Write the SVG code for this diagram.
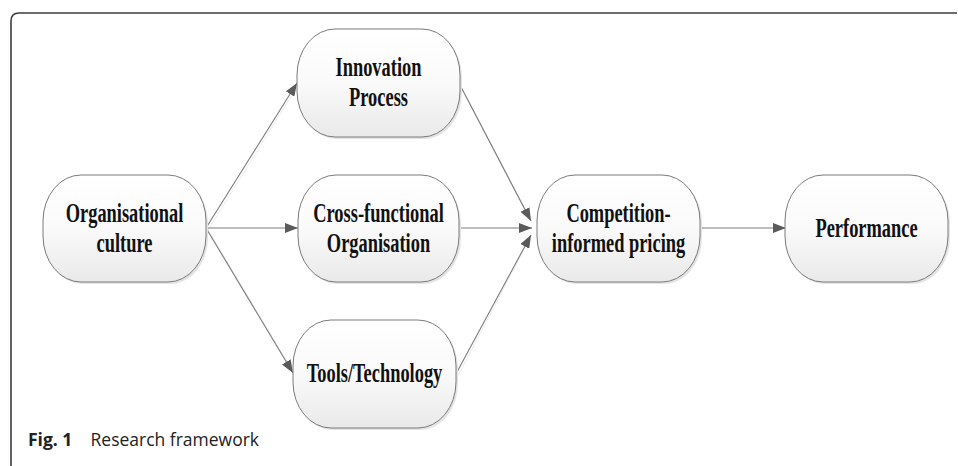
<svg xmlns="http://www.w3.org/2000/svg" width="958" height="466" viewBox="0 0 958 466">
  <defs>
    <linearGradient id="nodeFill" x1="0" y1="0" x2="0" y2="1">
      <stop offset="0" stop-color="#ffffff"/>
      <stop offset="0.5" stop-color="#fafafa"/>
      <stop offset="1" stop-color="#e9e9e9"/>
    </linearGradient>
    <marker id="arrow" viewBox="0 0 13 10" refX="13" refY="5" markerWidth="13" markerHeight="10" markerUnits="userSpaceOnUse" orient="auto">
      <path d="M0,0 L13,5 L0,10 z" fill="#5a5a5a"/>
    </marker>
    <style>
      .shadow { fill: #e4e4e4; stroke: none; }
      .node { fill: url(#nodeFill); stroke: #7a7a7a; stroke-width: 1; }
      .lbl { font-family: "Liberation Serif", "Times New Roman", serif; font-weight: bold; font-size: 26.5px; fill: #111; text-anchor: middle; }
      .conn { stroke: #7a7a7a; stroke-width: 1.1; fill: none; marker-end: url(#arrow); }
      .connShadow { stroke: #ececec; stroke-width: 1; fill: none; }
      .frame { stroke: #3c3c3c; stroke-width: 1.6; fill: none; }
      .cap { font-family: "Open Sans", "Noto Sans", sans-serif; font-size: 17.5px; fill: #222; }
    </style>
  </defs>

  <rect x="0" y="0" width="958" height="466" fill="#ffffff"/>
  <path class="frame" d="M11,466 V21 Q11,13 19,13 H957"/>

  <g id="connectors">
    <line class="connShadow" x1="208" y1="230" x2="297" y2="87"/>
    <line class="connShadow" x1="208" y1="230" x2="295" y2="375"/>
    <line class="connShadow" x1="461" y1="87" x2="530" y2="220"/>
    <line class="connShadow" x1="458" y1="376" x2="530" y2="238"/>
    <line class="conn" x1="206" y1="228" x2="297" y2="83"/>
    <line class="conn" x1="206" y1="228" x2="298" y2="228"/>
    <line class="conn" x1="206" y1="228" x2="293" y2="373"/>
    <line class="conn" x1="460" y1="85" x2="531" y2="221"/>
    <line class="conn" x1="459" y1="228" x2="532" y2="228"/>
    <line class="conn" x1="457" y1="372" x2="531" y2="235"/>
    <line class="conn" x1="700" y1="228" x2="786" y2="228"/>
  </g>

  <g id="node-organisational-culture">
    <rect class="shadow" x="45" y="177" width="163" height="107" rx="38" ry="46"/>
    <rect class="node" x="43" y="175" width="163" height="107" rx="38" ry="46"/>
    <text class="lbl" transform="translate(124.5,222) scale(0.695,1)"><tspan x="0" y="0">Organisational</tspan><tspan x="0" y="30">culture</tspan></text>
  </g>

  <g id="node-innovation-process">
    <rect class="shadow" x="299" y="31" width="163" height="108" rx="38" ry="46"/>
    <rect class="node" x="297" y="29" width="163" height="108" rx="38" ry="46"/>
    <text class="lbl" transform="translate(378.5,76) scale(0.695,1)"><tspan x="0" y="0">Innovation</tspan><tspan x="0" y="30">Process</tspan></text>
  </g>

  <g id="node-cross-functional">
    <rect class="shadow" x="300" y="177" width="161" height="107" rx="38" ry="46"/>
    <rect class="node" x="298" y="175" width="161" height="107" rx="38" ry="46"/>
    <text class="lbl" transform="translate(378.5,222) scale(0.695,1)"><tspan x="0" y="0">Cross-functional</tspan><tspan x="0" y="30">Organisation</tspan></text>
  </g>

  <g id="node-tools-technology">
    <rect class="shadow" x="295" y="322" width="163" height="108" rx="38" ry="46"/>
    <rect class="node" x="293" y="320" width="163" height="108" rx="38" ry="46"/>
    <text class="lbl" transform="translate(374.5,382) scale(0.695,1)">Tools/Technology</text>
  </g>

  <g id="node-competition-pricing">
    <rect class="shadow" x="539" y="177" width="163" height="107" rx="38" ry="46"/>
    <rect class="node" x="537" y="175" width="163" height="107" rx="38" ry="46"/>
    <text class="lbl" transform="translate(618.5,222) scale(0.695,1)"><tspan x="0" y="0">Competition-</tspan><tspan x="0" y="30">informed pricing</tspan></text>
  </g>

  <g id="node-performance">
    <rect class="shadow" x="787" y="177" width="163" height="107" rx="38" ry="46"/>
    <rect class="node" x="785" y="175" width="163" height="107" rx="38" ry="46"/>
    <text class="lbl" transform="translate(866.5,237) scale(0.695,1)">Performance</text>
  </g>

  <text class="cap" x="28" y="446"><tspan font-weight="bold">Fig. 1</tspan><tspan x="90.5">Research framework</tspan></text>
</svg>
